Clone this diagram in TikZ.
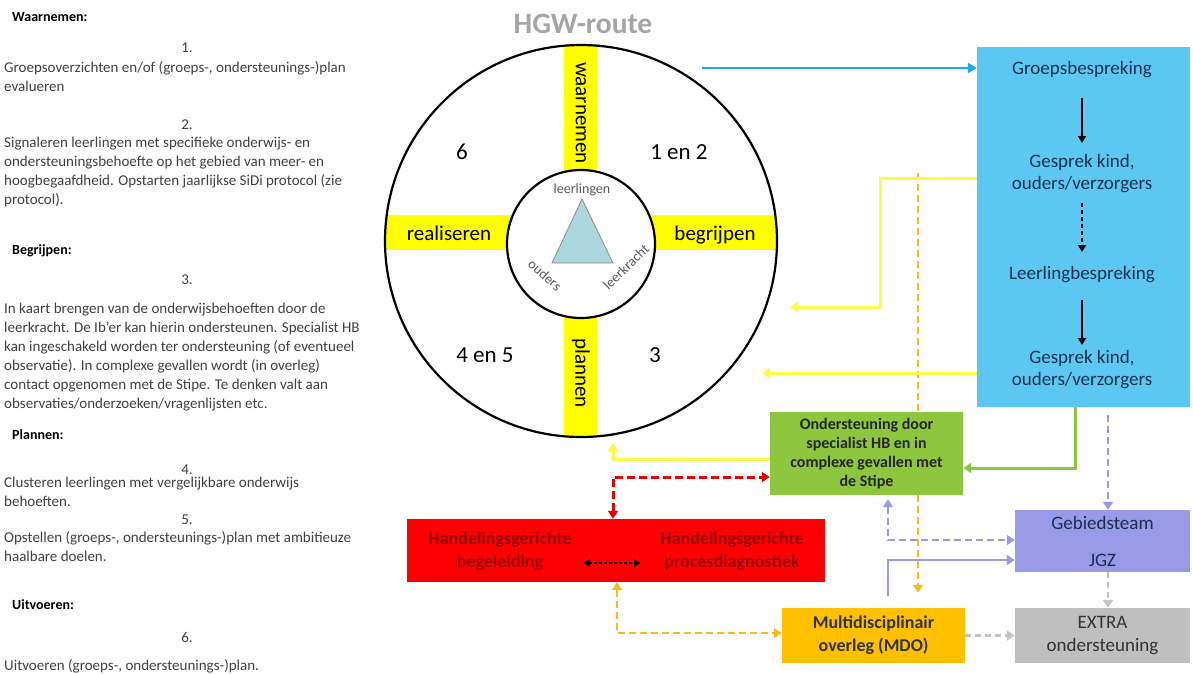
\documentclass[tikz,border=0pt]{standalone}
\usepackage{fontspec}
\setmainfont{Carlito}
\usetikzlibrary{arrows.meta, calc, positioning}

\definecolor{TekstGrijs}{RGB}{64,64,64}
\definecolor{TitelGrijs}{RGB}{165,165,165}
\definecolor{Geel}{RGB}{255,255,0}
\definecolor{GeelLijn}{RGB}{255,250,70}
\definecolor{BlauwVak}{RGB}{92,199,241}
\definecolor{BlauwLijn}{RGB}{30,172,226}
\definecolor{BlauwInkt}{RGB}{22,50,78}
\definecolor{GroenVak}{RGB}{141,198,63}
\definecolor{RoodVak}{RGB}{255,0,0}
\definecolor{RoodLijn}{RGB}{228,0,0}
\definecolor{RoodInkt}{RGB}{150,0,0}
\definecolor{OranjeVak}{RGB}{255,192,0}
\definecolor{OranjeLijn}{RGB}{246,188,30}
\definecolor{PaarsVak}{RGB}{153,153,230}
\definecolor{GrijsVak}{RGB}{191,191,191}
\definecolor{GrijsLijn}{RGB}{195,195,195}
\definecolor{DriehoekBlauw}{RGB}{170,214,220}

\begin{document}
\begin{tikzpicture}
	[
	x=1pt, y=-1pt,																		%1 Einheit = 1 Pixel
	LinksTekst/.style={anchor=base west, align=left, inner sep=0pt, text=TekstGrijs, font=\fontsize{15}{19}\selectfont},	%Tekst links, base = laatste regel
	Kop/.style={anchor=base west, inner sep=0pt, font=\fontsize{14}{19}\selectfont\bfseries},						%Kopjes links
	Nummer/.style={anchor=base, inner sep=0pt, text=TekstGrijs, font=\fontsize{15}{19}\selectfont},					%Stapnummers
	BandTekst/.style={inner sep=0pt, font=\fontsize{21}{21}\selectfont},												%Tekst in gele banden
	Kwadrant/.style={inner sep=0pt, font=\fontsize{23}{23}\selectfont},												%Stappen in de cirkel
	DriehoekTekst/.style={inner sep=0pt, text=black!65, font=\fontsize{14}{14}\selectfont},
	Vak/.style={inner sep=0pt, align=center},																		%Gekleurde vakken
	BlauwTekst/.style={inner sep=0pt, align=center, text=BlauwInkt, font=\fontsize{19}{22}\selectfont},
	RoodTekst/.style={inner sep=0pt, align=center, text=RoodInkt, font=\fontsize{18}{23}\selectfont\bfseries},
	ZwartPijl/.style={line width=1.6pt, -{Triangle[width=8pt,length=7pt]}},
	BlauwPijl/.style={draw=BlauwLijn, line width=2.5pt, -{Triangle[width=10pt,length=9pt]}},
	GeelPijl/.style={draw=GeelLijn, line width=3pt, -{Triangle[width=10pt,length=8pt]}},
	GroenPijl/.style={draw=GroenVak, line width=3pt, -{Triangle[width=10pt,length=8pt]}},
	RoodStreep/.style={draw=RoodLijn, line width=3pt, dash pattern=on 8pt off 4pt, {Triangle[width=10pt,length=8pt]}-{Triangle[width=10pt,length=8pt]}},
	OranjeStreep/.style={draw=OranjeLijn, line width=2.5pt, dash pattern=on 7pt off 4pt},
	PaarsStreep/.style={draw=PaarsVak, line width=2.5pt, dash pattern=on 7pt off 4pt},
	PaarsPijl/.style={draw=PaarsVak, line width=2.5pt, -{Triangle[width=10pt,length=8pt]}},
	GrijsStreep/.style={draw=GrijsLijn, line width=2.5pt, dash pattern=on 6pt off 4pt, -{Triangle[width=10pt,length=8pt]}}
	]

	%% Maten van de cirkel %%
	\def\RBuiten{196pt};	%Straal buitenste cirkel
	\def\RBinnen{74pt};		%Straal binnenste cirkel

	\useasboundingbox (0,0) rectangle (1193,673);

	%%%%%%%%%%%%%%%%%%%%%%%%%% Tekst links %%%%%%%%%%%%%%%%%%%%%%%%%%
	\node[Kop] (kopWaarnemen) at (12,21) {Waarnemen:};
	\node[Nummer] (nr1) at (187,52) {1.};
	\node[LinksTekst] (tekst1) at (4,91) {Groepsoverzichten en/of (groeps-, ondersteunings-)plan\\evalueren};
	\node[Nummer] (nr2) at (187,129) {2.};
	\node[LinksTekst] (tekst2) at (4,204) {Signaleren leerlingen met specifieke onderwijs- en\\ondersteuningsbehoefte op het gebied van meer- en\\hoogbegaafdheid. Opstarten jaarlijkse SiDi protocol (zie\\protocol).};
	\node[Kop] (kopBegrijpen) at (12,254) {Begrijpen:};
	\node[Nummer] (nr3) at (187,284) {3.};
	\node[LinksTekst] (tekst3) at (4,408) {In kaart brengen van de onderwijsbehoeften door de\\leerkracht. De Ib’er kan hierin ondersteunen. Specialist HB\\kan ingeschakeld worden ter ondersteuning (of eventueel\\observatie). In complexe gevallen wordt (in overleg)\\contact opgenomen met de Stipe. Te denken valt aan\\observaties/onderzoeken/vragenlijsten etc.};
	\node[Kop] (kopPlannen) at (12,439) {Plannen:};
	\node[Nummer] (nr4) at (187,474) {4.};
	\node[LinksTekst] (tekst4) at (4,506) {Clusteren leerlingen met vergelijkbare onderwijs\\behoeften.};
	\node[Nummer] (nr5) at (187,524) {5.};
	\node[LinksTekst] (tekst5) at (4,561) {Opstellen (groeps-, ondersteunings-)plan met ambitieuze\\haalbare doelen.};
	\node[Kop] (kopUitvoeren) at (12,609) {Uitvoeren:};
	\node[Nummer] (nr6) at (187,642) {6.};
	\node[LinksTekst] (tekst6) at (4,670) {Uitvoeren (groeps-, ondersteunings-)plan.};

	%%%%%%%%%%%%%%%%%%%%%%%%%% HGW-cirkel %%%%%%%%%%%%%%%%%%%%%%%%%%
	\coordinate (midden) at (581,241);
	\node[inner sep=0pt, text=TitelGrijs, font=\fontsize{29.5}{30}\selectfont\bfseries] (titel) at (583,24) {HGW-route};
	\begin{scope}
		\clip (midden) circle (\RBuiten);
		\fill[Geel] (564,0) rectangle (597,673);	%verticale band
		\fill[Geel] (0,215) rectangle (1193,250);	%horizontale band
	\end{scope}
	\draw[line width=2.2pt, fill=white] (0,0) ++(581,244) circle (\RBinnen);
	\draw[line width=2.2pt] (midden) circle (\RBuiten);
	\node[BandTekst, rotate=-90] (waarnemen) at (581,113) {waarnemen};
	\node[BandTekst, rotate=-90] (plannen) at (581,373) {plannen};
	\node[BandTekst, anchor=base] (realiseren) at (449,240) {realiseren};
	\node[BandTekst, anchor=base] (begrijpen) at (715,240) {begrijpen};
	\node[Kwadrant] (stap6) at (462,152) {6};
	\node[Kwadrant] (stap12) at (679,152) {1 en 2};
	\node[Kwadrant] (stap45) at (485,355) {4 en 5};
	\node[Kwadrant] (stap3) at (655,355) {3};
	% Driehoek in het midden
	\filldraw[fill=DriehoekBlauw, draw=black!45, line width=0.8pt] (582,199) -- (613,263) -- (552,263) -- cycle;
	\node[DriehoekTekst] (leerlingen) at (582,190) {leerlingen};
	\node[DriehoekTekst, rotate=-42] (ouders) at (545,275) {ouders};
	\node[DriehoekTekst, rotate=44] (leerkracht) at (626,267) {leerkracht};

	%%%%%%%%%%%%%%%%%%%%%%%%%% Vakken rechts %%%%%%%%%%%%%%%%%%%%%%%%%%
	\coordinate (oranjeStart) at (918,173);
	\node[Vak, fill=BlauwVak, minimum width=213pt, minimum height=360pt] (bespreking) at (1083.5,227) {};
	\node[Vak, fill=GroenVak, minimum width=193pt, minimum height=83pt] (ondersteuning) at (866.5,453.5) {};
	\draw[OranjeStreep] (oranjeStart) -- (oranjeStart |- ondersteuning.north);	%loopt achter het groene vak
	\node[Vak, fill=GroenVak, minimum width=193pt, minimum height=83pt, text=black!85, font=\fontsize{16}{19}\selectfont\bfseries] at (ondersteuning) {Ondersteuning door\\specialist HB en in\\complexe gevallen met\\de Stipe};
	\node[Vak, fill=RoodVak, minimum width=418pt, minimum height=63pt] (handeling) at (616,550.5) {};
	\node[Vak, fill=OranjeVak, minimum width=183pt, minimum height=55pt, text=black!80, font=\fontsize{18}{23}\selectfont\bfseries] (mdo) at (873.5,635.5) {Multidisciplinair\\overleg (MDO)};
	\node[Vak, fill=PaarsVak, minimum width=175pt, minimum height=62pt, text=BlauwInkt, font=\fontsize{19}{37}\selectfont] (gebied) at (1102.5,541) {Gebiedsteam\\JGZ};
	\node[Vak, fill=GrijsVak, minimum width=175pt, minimum height=55pt, text=black!80, font=\fontsize{19}{23}\selectfont] (extra) at (1102.5,635.5) {EXTRA\\ondersteuning};

	% Tekst in het blauwe vak
	\node[BlauwTekst] (groeps) at (1082,70) {Groepsbespreking};
	\node[BlauwTekst] (gesprekA) at (1082,174) {Gesprek kind,\\ouders/verzorgers};
	\node[BlauwTekst] (leerling) at (1082,275) {Leerlingbespreking};
	\node[BlauwTekst] (gesprekB) at (1082,370) {Gesprek kind,\\ouders/verzorgers};
	% Tekst in het rode vak
	\node[RoodTekst] (begeleiding) at (500,551) {Handelingsgerichte\\begeleiding};
	\node[RoodTekst] (diagnostiek) at (732,551) {Handelingsgerichte\\procesdiagnostiek};

	%%%%%%%%%%%%%%%%%%%%%%%%%% Verbindingen %%%%%%%%%%%%%%%%%%%%%%%%%%
	\coordinate (blauwStart) at (702,68);
	\draw[BlauwPijl] (blauwStart) -- (blauwStart -| bespreking.west);
	\draw[ZwartPijl] ([yshift=-28pt]groeps.center) -- ([yshift=31pt]gesprekA.center);
	\draw[ZwartPijl, dash pattern=on 4pt off 3pt] ([yshift=-29pt]gesprekA.center) -- ([yshift=23pt]leerling.center);
	\draw[ZwartPijl] ([yshift=-25pt]leerling.center) -- ([yshift=25pt]gesprekB.center);
	% gele pijlen terug naar de cirkel
	\coordinate (geelHoek) at (880,178);
	\coordinate (geelEind1) at (790,307);
	\coordinate (geelEind2) at (762,373);
	\coordinate (geelEind3) at (613,443);
	\draw[GeelPijl] (geelHoek -| bespreking.west) -- (geelHoek) |- (geelEind1);
	\draw[GeelPijl] (geelEind2 -| bespreking.west) -- (geelEind2);
	\draw[GeelPijl] ([yshift=-5.5pt]ondersteuning.west) -| (geelEind3);
	\draw[GroenPijl] ([xshift=-8pt]bespreking.south) |- ([yshift=-14.5pt]ondersteuning.east);
	\draw[RoodStreep] ([xshift=-3pt]handeling.north) |- ([yshift=-23.5pt]ondersteuning.west);
	\draw[line width=1.5pt, dash pattern=on 3pt off 2pt, {Triangle[width=7pt,length=6pt]}-{Triangle[width=7pt,length=6pt]}, shorten <=12pt, shorten >=20pt] ([yshift=-12pt]begeleiding.east) -- ([yshift=-12pt]diagnostiek.west);
	\draw[OranjeStreep, {Triangle[width=10pt,length=8pt]}-{Triangle[width=10pt,length=8pt]}] ([xshift=1pt]handeling.south) |- ([yshift=2.5pt]mdo.west);
	\draw[OranjeStreep, -{Triangle[width=10pt,length=8pt]}, shorten >=15pt] (ondersteuning.south -| oranjeStart) -- (oranjeStart |- mdo.north);
	\draw[PaarsStreep, -{Triangle[width=10pt,length=8pt]}, shorten <=8pt] ([xshift=24.5pt]bespreking.south) -- ([xshift=24.5pt]bespreking.south |- gebied.north);
	\draw[PaarsStreep, {Triangle[width=10pt,length=8pt]}-{Triangle[width=10pt,length=8pt]}, shorten <=4pt] ([xshift=21.5pt]ondersteuning.south) |- ([yshift=1pt]gebied.west);
	\draw[PaarsPijl, shorten <=12pt] ([xshift=14.5pt]mdo.north) |- ([yshift=-19pt]gebied.west);
	\draw[GrijsStreep] ([xshift=5.5pt]gebied.south) -- ([xshift=5.5pt]extra.north);
	\draw[GrijsStreep] (mdo.east) -- (extra.west);
\end{tikzpicture}
\end{document}
